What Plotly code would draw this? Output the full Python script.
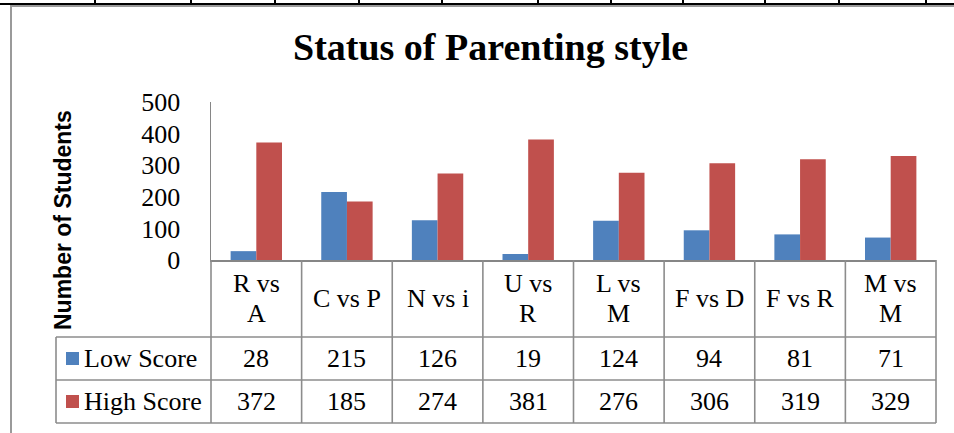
import plotly.graph_objects as go

# ---- data ----
categories = ["R vs<br>A", "C vs P", "N vs i", "U vs<br>R", "L vs<br>M", "F vs D", "F vs R", "M vs<br>M"]
series_names = ["Low Score", "High Score"]
low_score = [28, 215, 126, 19, 124, 94, 81, 71]
high_score = [372, 185, 274, 381, 276, 306, 319, 329]
y_ticks = [0, 100, 200, 300, 400, 500]
title_text = "Status of Parenting style"
y_title = "Number of Students"

# ---- geometry (pixels) ----
W, H = 954, 433
L, R, T, B = 211, 936, 102, 260
ROW_HDR_B, ROW_LOW_B, ROW_HIGH_B = 337, 380, 423
LEG_L = 56
BLUE, RED = "#4F81BD", "#C0504D"
GRID = "#8c8c8c"
SERIF = "Liberation Serif, Times New Roman, serif"
FS = 26

def px(x):
    return (x - L) / (R - L)

def py(y):
    return (B - y) / (B - T)

n = len(categories)
xs = list(range(n))

fig = go.Figure()
fig.add_trace(go.Bar(x=xs, y=low_score, name=series_names[0], marker=dict(color=BLUE, line=dict(width=0))))
fig.add_trace(go.Bar(x=xs, y=high_score, name=series_names[1], marker=dict(color=RED, line=dict(width=0))))

shapes = []
annotations = []

def hline(y, x0, x1, color=GRID, w=1.6):
    shapes.append(dict(type="line", xref="paper", yref="paper", x0=px(x0), x1=px(x1), y0=py(y), y1=py(y),
                       line=dict(color=color, width=w)))

def vline(x, y0, y1, color=GRID, w=1.6):
    shapes.append(dict(type="line", xref="paper", yref="paper", x0=px(x), x1=px(x), y0=py(y0), y1=py(y1),
                       line=dict(color=color, width=w)))

# outer frame and page artefacts
shapes.append(dict(type="rect", xref="paper", yref="paper", x0=px(11), x1=px(W + 10), y0=py(6), y1=py(H + 10),
                   line=dict(color="#9a9a9a", width=2), fillcolor="rgba(0,0,0,0)"))
hline(4, 0, W, color="black", w=2)
for tx in [95, 191, 275, 359, 442, 538, 611, 683, 765, 839, 926]:
    vline(tx, 0, 4, color="black", w=2)

# data table grid
colw = (R - L) / n
for yy in [ROW_HDR_B, ROW_LOW_B, ROW_HIGH_B]:
    hline(yy, LEG_L, R)
vline(LEG_L, ROW_HDR_B, ROW_HIGH_B)
for i in range(n + 1):
    vline(L + i * colw, B, ROW_HIGH_B)

font_tbl = dict(family=SERIF, size=FS, color="black")
for i in range(n):
    cx = px(L + (i + 0.5) * colw)
    parts = categories[i].split("<br>")
    if len(parts) == 1:
        line_ys = [(B + ROW_HDR_B) / 2]
    else:
        line_ys = [283, 313]
    for part, ly in zip(parts, line_ys):
        annotations.append(dict(xref="paper", yref="paper", x=cx, y=py(ly), text=part,
                                showarrow=False, xanchor="center", yanchor="middle", font=font_tbl))
    annotations.append(dict(xref="paper", yref="paper", x=cx, y=py((ROW_HDR_B + ROW_LOW_B) / 2), text=str(low_score[i]),
                            showarrow=False, xanchor="center", yanchor="middle", font=font_tbl))
    annotations.append(dict(xref="paper", yref="paper", x=cx, y=py((ROW_LOW_B + ROW_HIGH_B) / 2), text=str(high_score[i]),
                            showarrow=False, xanchor="center", yanchor="middle", font=font_tbl))

# legend keys in table
for (name, col, y0, y1) in [(series_names[0], BLUE, ROW_HDR_B, ROW_LOW_B), (series_names[1], RED, ROW_LOW_B, ROW_HIGH_B)]:
    cy = (y0 + y1) / 2
    shapes.append(dict(type="rect", xref="paper", yref="paper", x0=px(66), x1=px(79), y0=py(cy - 6.5), y1=py(cy + 6.5),
                       line=dict(width=0), fillcolor=col))
    annotations.append(dict(xref="paper", yref="paper", x=px(82), y=py(cy), text=name, showarrow=False,
                            xanchor="left", yanchor="middle", font=font_tbl))

# title
annotations.append(dict(xref="paper", yref="paper", x=px(490), y=py(47), text="<b>" + title_text + "</b>",
                        showarrow=False, xanchor="center", yanchor="middle",
                        font=dict(family=SERIF, size=38, color="black")))
# y axis title
annotations.append(dict(xref="paper", yref="paper", x=px(63), y=py(220), text="<b>" + y_title + "</b>",
                        showarrow=False, xanchor="center", yanchor="middle", textangle=-90,
                        font=dict(family="Liberation Sans, Arial, sans-serif", size=23, color="black")))

fig.update_layout(
    width=W, height=H,
    margin=dict(l=L, r=W - R, t=T, b=H - B, pad=0),
    paper_bgcolor="white", plot_bgcolor="white",
    showlegend=False,
    barmode="group", bargap=0.433, bargroupgap=0,
    shapes=shapes, annotations=annotations,
    xaxis=dict(range=[-0.5, n - 0.5], showticklabels=False, ticks="", showgrid=False, zeroline=False,
               showline=True, linecolor="#868686", linewidth=2, fixedrange=True),
    yaxis=dict(range=[0, 500], tickvals=y_ticks, ticktext=[str(v) for v in y_ticks], showgrid=False, zeroline=False,
               showline=True, linecolor="#868686", linewidth=1.5, ticks="", ticklabelstandoff=24,
               tickfont=dict(family=SERIF, size=FS, color="black"), fixedrange=True),
)

fig.write_html("out.html", config={"displayModeBar": False, "staticPlot": True},
               post_script="document.body.style.margin='0';document.body.style.overflow='hidden';")
